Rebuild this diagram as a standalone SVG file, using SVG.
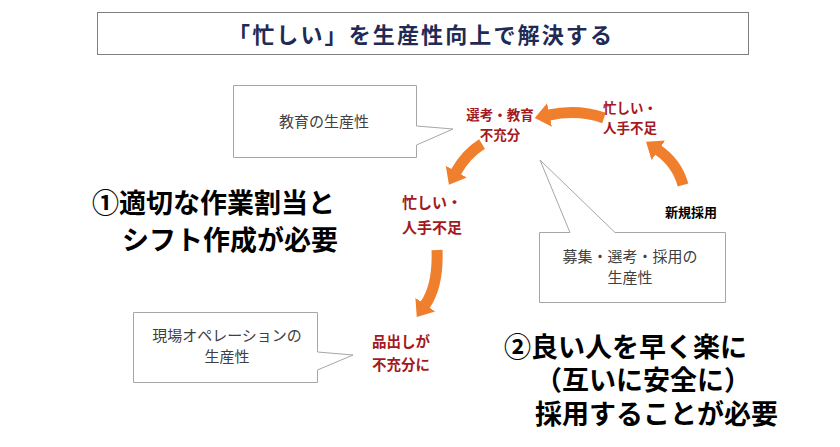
<svg xmlns="http://www.w3.org/2000/svg" width="840" height="447" viewBox="0 0 840 447">
<style>
text{font-family:"Noto Sans CJK JP","Noto Sans",sans-serif}
.title{font-size:22px;font-weight:bold;fill:#1f2a55}
.call{fill:#fff;stroke:#a6a6a6;stroke-width:1}
.ct{font-size:15px;fill:#404040;text-anchor:middle}
.red{font-weight:bold;fill:#a3191d}
.big{font-size:27px;font-weight:bold;fill:#000}
.arr{fill:none;stroke:#ef7f2c;stroke-width:11}
</style>
<defs>
<marker id="ah" markerUnits="userSpaceOnUse" markerWidth="16" markerHeight="26" viewBox="0 0 16 26" refX="0.5" refY="13" orient="auto">
<path d="M0 1 L15 13 L0 25 Z" fill="#ef7f2c"/>
</marker>
</defs>
<g id="title">
<rect x="97.5" y="12.5" width="651" height="42" fill="#fff" stroke="#808080"/>
<text class="title" x="228" y="43" textLength="384">「忙しい」を生産性向上で解決する</text>
</g>
<g id="connectors">
<path class="arr" d="M604 118 Q578 109 549 115" marker-end="url(#ah)"/>
<path class="arr" d="M683 185 Q677 163 658 150" marker-end="url(#ah)"/>
<path class="arr" d="M482 144 Q466 154 456 172" marker-end="url(#ah)"/>
<path class="arr" d="M437 250 C438 275 434 292 425 305" marker-end="url(#ah)"/>
</g>
<g id="callout-education">
<path class="call" d="M233.5 85.5 H416.5 V126 L453 129 L416.5 145 V157.5 H233.5 Z"/>
<text class="ct" x="324" y="127">教育の生産性</text>
</g>
<g id="callout-recruit">
<path class="call" d="M539.5 232.5 H570 L540 160 L615 232.5 H725.5 V302.5 H539.5 Z"/>
<text class="ct" x="630" y="262">募集・選考・採用の</text>
<text class="ct" x="630" y="283">生産性</text>
</g>
<g id="callout-operation">
<path class="call" d="M133.5 312.5 H317.5 V352 L353 355 L317.5 370 V382.5 H133.5 Z"/>
<text class="ct" x="227" y="341">現場オペレーションの</text>
<text class="ct" x="227" y="362">生産性</text>
</g>
<g id="node-senko">
<text class="red" x="500" y="120" font-size="13.5" text-anchor="middle">選考・教育</text>
<text class="red" x="500" y="140" font-size="13.5" text-anchor="middle">不充分</text>
</g>
<g id="node-busy-top">
<text class="red" x="603" y="113" font-size="13.5">忙しい・</text>
<text class="red" x="603" y="133" font-size="13.5">人手不足</text>
</g>
<g id="node-busy-mid">
<text class="red" x="402" y="208" font-size="15">忙しい・</text>
<text class="red" x="402" y="233" font-size="15">人手不足</text>
</g>
<g id="node-shinadashi">
<text class="red" x="372" y="347" font-size="14.5">品出しが</text>
<text class="red" x="372" y="370" font-size="14.5">不充分に</text>
</g>
<g id="node-newhire">
<text x="665" y="217" font-size="13" font-weight="bold" fill="#000">新規採用</text>
</g>
<g id="note-1">
<text class="big" x="92" y="213">①適切な作業割当と</text>
<text class="big" x="122" y="250">シフト作成が必要</text>
</g>
<g id="note-2">
<text class="big" x="504" y="357" font-size="28">②良い人を早く楽に</text>
<text class="big" x="535" y="390" font-size="28">（互いに安全に）</text>
<text class="big" x="535" y="424" font-size="28">採用することが必要</text>
</g>
</svg>
